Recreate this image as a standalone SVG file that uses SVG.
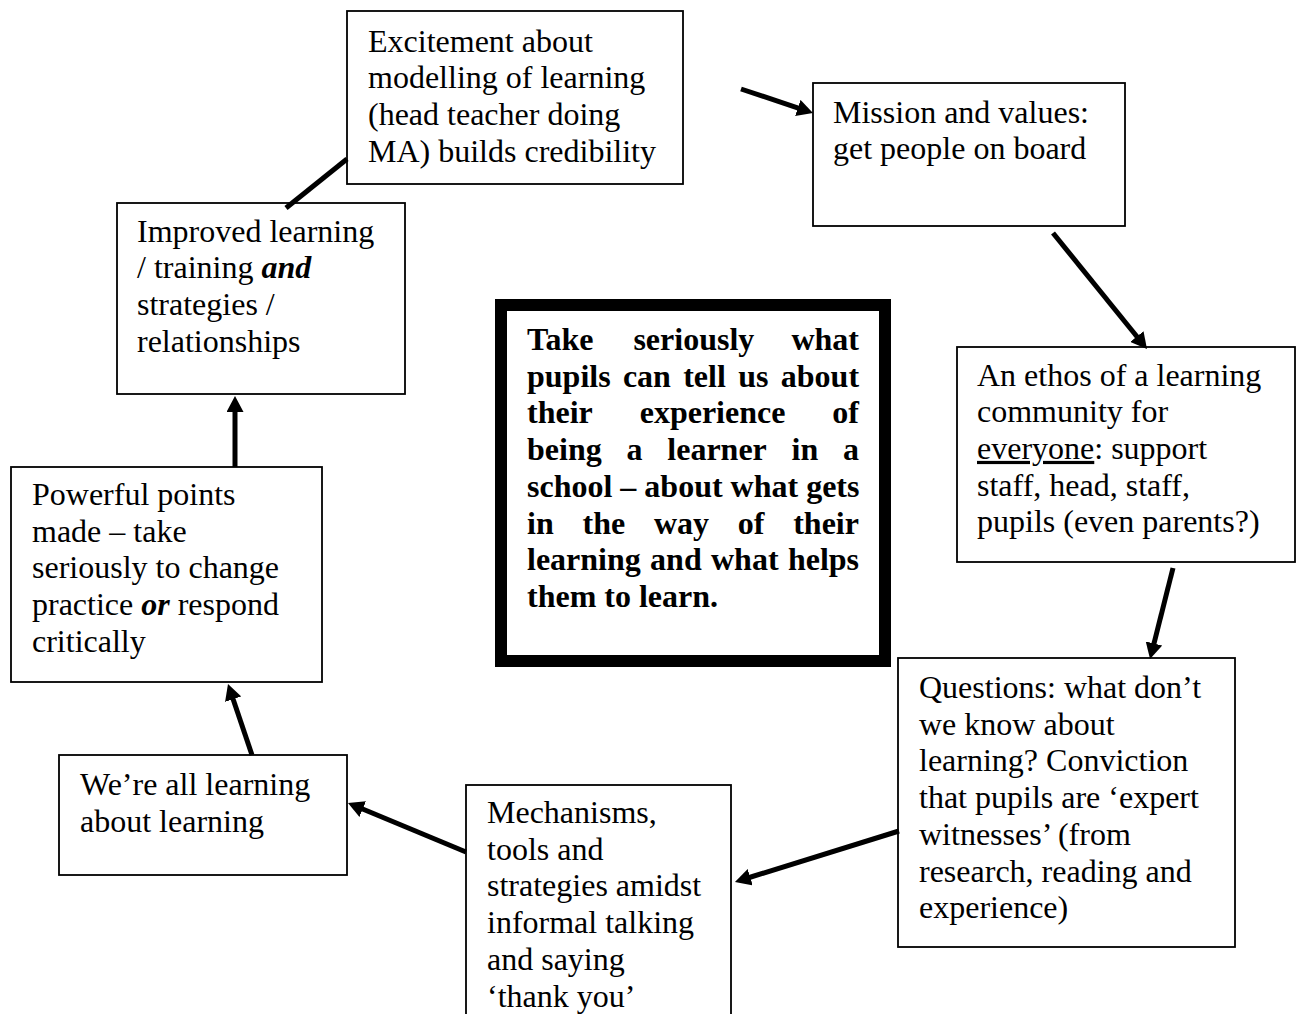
<svg xmlns="http://www.w3.org/2000/svg" width="1298" height="1014" viewBox="0 0 1298 1014">
<style>
.box{fill:#fff;stroke:#000;stroke-width:1.8}
.t{font-family:"Liberation Serif","Times New Roman",serif;font-size:32px;fill:#000}
.b{font-weight:bold}
.bi{font-weight:bold;font-style:italic}
.con{stroke:#000;stroke-width:5;fill:none}
.arr{marker-end:url(#ah)}
</style>
<defs>
<marker id="ah" markerUnits="userSpaceOnUse" markerWidth="17" markerHeight="17" refX="6" refY="8.5" orient="auto">
<path d="M0,0 L16,8.5 L0,17 z" fill="#000"/>
</marker>
</defs>
<rect width="1298" height="1014" fill="#fff"/>

<g id="excitement">
<rect class="box" x="347" y="11" width="336" height="173"/>
<text class="t" x="368" y="51.5">Excitement about</text>
<text class="t" x="368" y="88.2">modelling of learning</text>
<text class="t" x="368" y="124.9">(head teacher doing</text>
<text class="t" x="368" y="161.6">MA) builds credibility</text>
</g>

<g id="mission">
<rect class="box" x="813" y="83" width="312" height="143"/>
<text class="t" x="833" y="122.7">Mission and values:</text>
<text class="t" x="833" y="159.4">get people on board</text>
</g>

<g id="ethos">
<rect class="box" x="957" y="347" width="338" height="215"/>
<text class="t" x="977" y="385.5">An ethos of a learning</text>
<text class="t" x="977" y="422.2">community for</text>
<text class="t" x="977" y="458.9"><tspan text-decoration="underline">everyone</tspan>: support</text>
<text class="t" x="977" y="495.6">staff, head, staff,</text>
<text class="t" x="977" y="532.3">pupils (even parents?)</text>
</g>

<g id="questions">
<rect class="box" x="898" y="658" width="337" height="289"/>
<text class="t" x="919" y="698">Questions: what don’t</text>
<text class="t" x="919" y="734.7">we know about</text>
<text class="t" x="919" y="771.4">learning? Conviction</text>
<text class="t" x="919" y="808.1">that pupils are ‘expert</text>
<text class="t" x="919" y="844.8">witnesses’ (from</text>
<text class="t" x="919" y="881.5">research, reading and</text>
<text class="t" x="919" y="918.2">experience)</text>
</g>

<g id="mechanisms">
<rect class="box" x="466" y="785" width="265" height="240"/>
<text class="t" x="487" y="823">Mechanisms,</text>
<text class="t" x="487" y="859.7">tools and</text>
<text class="t" x="487" y="896.4">strategies amidst</text>
<text class="t" x="487" y="933.1">informal talking</text>
<text class="t" x="487" y="969.8">and saying</text>
<text class="t" x="487" y="1006.5">‘thank you’</text>
</g>

<g id="were">
<rect class="box" x="59" y="755" width="288" height="120"/>
<text class="t" x="80" y="795">We’re all learning</text>
<text class="t" x="80" y="831.7">about learning</text>
</g>

<g id="powerful">
<rect class="box" x="11" y="467" width="311" height="215"/>
<text class="t" x="32" y="505">Powerful points</text>
<text class="t" x="32" y="541.7">made – take</text>
<text class="t" x="32" y="578.4">seriously to change</text>
<text class="t" x="32" y="615.1">practice <tspan class="bi">or</tspan> respond</text>
<text class="t" x="32" y="651.8">critically</text>
</g>

<g id="improved">
<rect class="box" x="117" y="203" width="288" height="191"/>
<text class="t" x="137" y="241.7">Improved learning</text>
<text class="t" x="137" y="278.4">/ training <tspan class="bi">and</tspan></text>
<text class="t" x="137" y="315.1">strategies /</text>
<text class="t" x="137" y="351.8">relationships</text>
</g>

<g id="centre">
<rect x="501" y="305" width="384" height="356" fill="#fff" stroke="#000" stroke-width="12"/>
<text class="t b" y="350"><tspan x="527">Take</tspan><tspan x="633.4">seriously</tspan><tspan x="791.4">what</tspan></text>
<text class="t b" y="386.7"><tspan x="527">pupils</tspan><tspan x="622.9">can</tspan><tspan x="683.2">tell</tspan><tspan x="738.2">us</tspan><tspan x="780.8">about</tspan></text>
<text class="t b" y="423.4"><tspan x="527">their</tspan><tspan x="639.7">experience</tspan><tspan x="832.3">of</tspan></text>
<text class="t b" y="460.1"><tspan x="527">being</tspan><tspan x="626.5">a</tspan><tspan x="667.3">learner</tspan><tspan x="791.6">in</tspan><tspan x="843">a</tspan></text>
<text class="t b" x="527" y="496.8">school – about what gets</text>
<text class="t b" y="533.5"><tspan x="527">in</tspan><tspan x="582.5">the</tspan><tspan x="653.9">way</tspan><tspan x="737.8">of</tspan><tspan x="793.2">their</tspan></text>
<text class="t b" y="570.2"><tspan x="527">learning</tspan><tspan x="650.1">and</tspan><tspan x="711">what</tspan><tspan x="787.9">helps</tspan></text>
<text class="t b" x="527" y="606.9">them to learn.</text>
</g>

<g id="connectors">
<line class="con arr" x1="741" y1="89" x2="803.5" y2="109.8"/>
<line class="con arr" x1="1053" y1="233" x2="1140.7" y2="341.2"/>
<line class="con arr" x1="1173" y1="568" x2="1152.5" y2="649.3"/>
<line class="con arr" x1="899" y1="831" x2="744.5" y2="879"/>
<line class="con arr" x1="466" y1="852" x2="357.2" y2="806.8"/>
<line class="con arr" x1="252" y1="755" x2="231.2" y2="693.5"/>
<line class="con arr" x1="235" y1="467" x2="235" y2="406"/>
<line class="con" x1="286" y1="208" x2="347" y2="159"/>
</g>
</svg>
